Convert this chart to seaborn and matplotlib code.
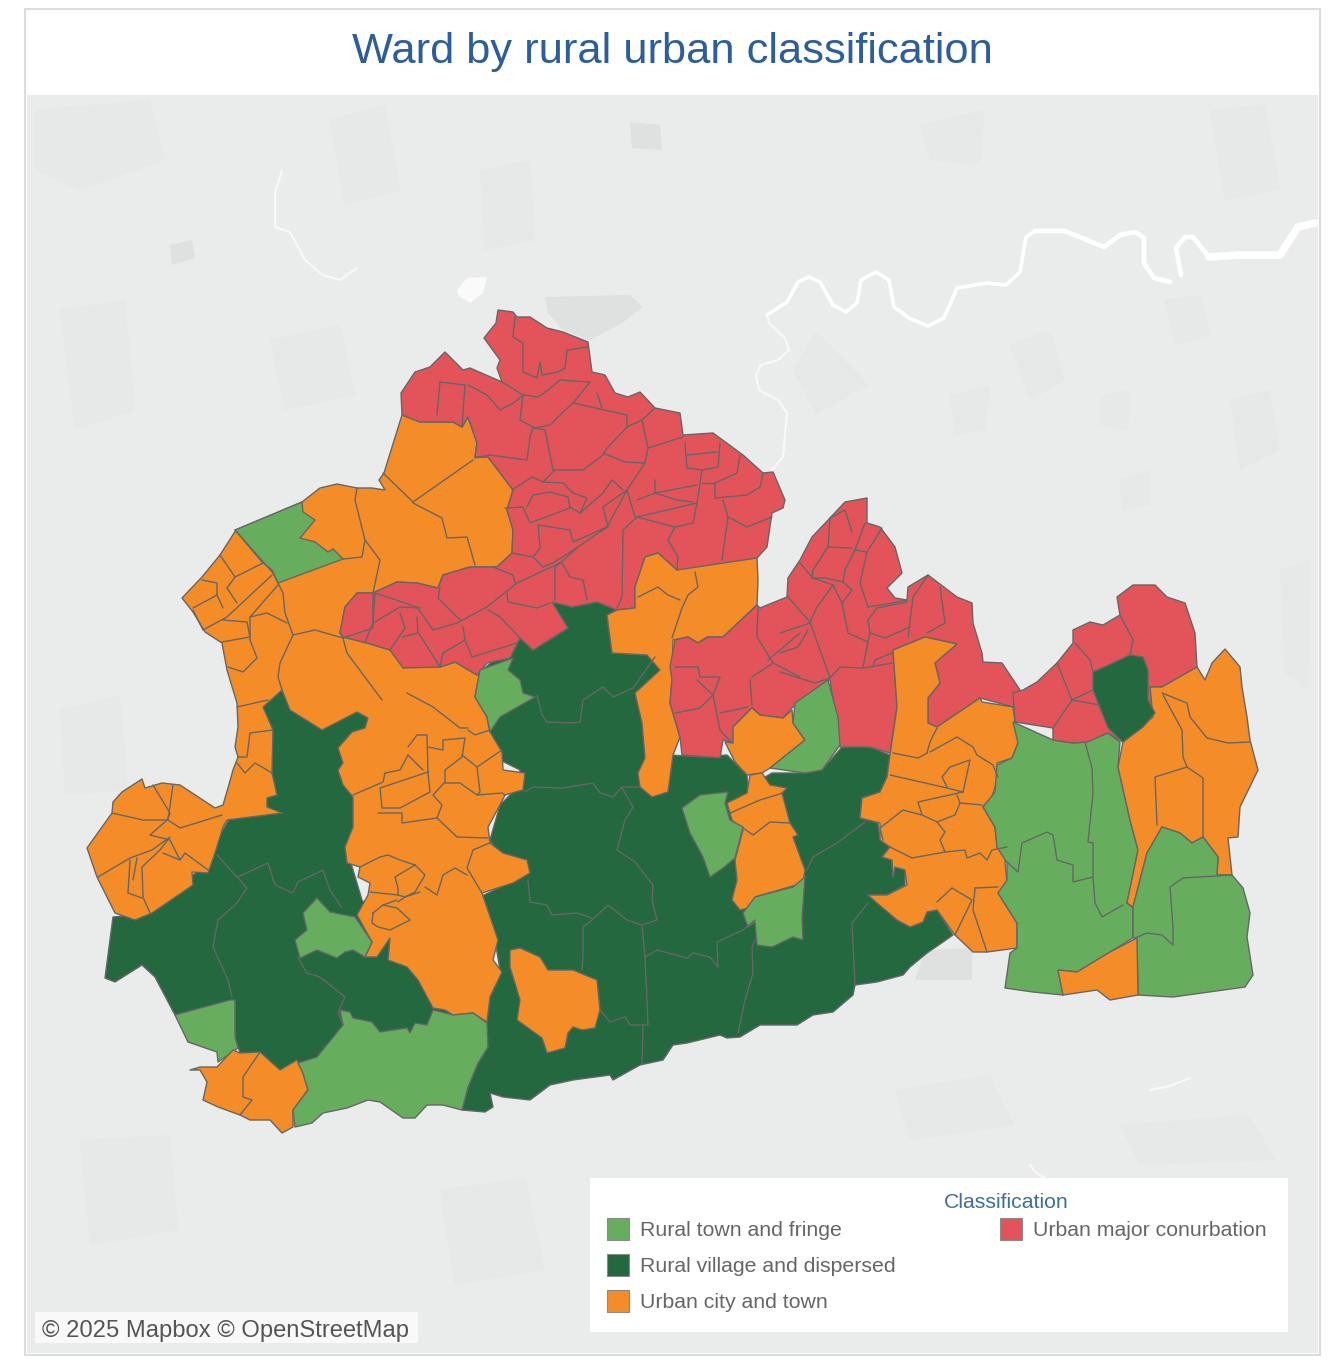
import matplotlib
matplotlib.use('Agg')
import matplotlib.pyplot as plt
from matplotlib.patches import Rectangle
import pandas as pd
import seaborn as sns

# class names and colours
CLASSES = ['Rural town and fringe', 'Rural village and dispersed', 'Urban city and town', 'Urban major conurbation']
COLOURS = ['#66ae5e', '#23683e', '#f48d27', '#e2545a']

# ---- region outlines (x, y in picture pixels)
DARK_BASE = [(105,978),(113,917),(135,915),(200,870),(240,800),(263,707),(282,690),(322,725),(357,708),(372,716),(360,790),(350,860),(362,900),(385,930),(395,950),(425,975),(440,1000),(480,1005),(500,970),(495,940),(480,897),(515,880),(500,855),(490,840),(500,805),(520,785),(520,770),(500,760),(490,735),(478,695),(480,672),(520,638),(533,650),(568,628),(552,610),(553,602),(572,607),(597,602),(617,610),(607,615),(612,653),(647,655),(660,670),(650,700),(660,780),(670,755),(703,757),(727,755),(747,775),(748,787),(772,773),(805,773),(822,770),(842,747),(857,747),(870,747),(890,755),(887,777),(880,792),(862,798),(860,818),(878,823),(880,840),(890,847),(882,857),(892,860),(893,877),(895,867),(905,870),(905,885),(887,895),(868,895),(877,903),(897,920),(910,927),(923,922),(927,912),(937,910),(953,935),(943,942),(927,953),(910,967),(903,975),(877,982),(855,985),(853,995),(833,1012),(813,1015),(797,1025),(760,1025),(740,1037),(727,1038),(720,1035),(687,1043),(673,1045),(663,1060),(640,1065),(613,1080),(610,1075),(573,1080),(550,1085),(530,1100),(503,1097),(490,1093),(493,1107),(485,1112),(462,1110),(468,1087),(478,1063),(488,1047),(480,1040),(400,1080),(298,1063),(280,1070),(240,1053),(235,1037),(235,1000),(175,1015),(155,977),(142,965),(115,982)]
ORANGE_WEST = [(236,530),(302,502),(320,488),(337,484),(357,488),(372,488),(385,490),(379,480),(384,473),(388,460),(402,415),(420,422),(453,422),(462,427),(468,417),(477,443),(475,457),(488,457),(513,490),(507,510),(513,530),(512,553),(497,567),(470,567),(443,575),(438,588),(417,583),(397,582),(373,593),(357,593),(345,607),(340,633),(343,637),(367,643),(390,650),(405,667),(440,667),(455,662),(477,675),(480,670),(475,697),(487,717),(490,732),(502,752),(503,770),(525,773),(523,790),(505,795),(500,805),(488,827),(490,843),(503,853),(527,860),(530,873),(513,883),(482,893),(498,940),(493,960),(502,972),(490,997),(487,1022),(473,1013),(453,1015),(445,1010),(433,1008),(418,980),(407,967),(388,960),(390,938),(377,957),(365,957),(372,942),(357,915),(368,895),(370,883),(358,877),(360,867),(347,863),(345,847),(353,827),(353,797),(343,785),(338,770),(343,763),(338,748),(352,732),(365,728),(368,718),(357,712),(322,730),(290,710),(282,690),(263,707),(273,730),(272,773),(277,795),(267,798),(267,807),(282,813),(227,820),(223,827),(215,853),(208,873),(192,872),(193,885),(152,913),(135,920),(115,913),(97,877),(87,848),(112,813),(113,802),(122,792),(142,779),(145,788),(162,783),(180,785),(215,808),(223,805),(228,788),(233,770),(238,757),(235,747),(238,727),(237,703),(227,670),(222,643),(205,632),(193,612),(182,598),(202,577),(220,555)]
RED_NORTH = [(498,310),(513,312),(517,317),(530,317),(547,328),(563,332),(588,342),(592,372),(605,375),(615,393),(628,397),(640,392),(655,408),(680,413),(683,435),(713,433),(743,455),(763,473),(773,472),(785,500),(783,508),(772,513),(767,547),(757,558),(697,570),(677,570),(658,553),(645,557),(635,587),(635,608),(617,610),(597,602),(572,607),(552,602),(568,628),(533,650),(520,638),(510,658),(487,663),(477,675),(455,662),(440,667),(403,668),(390,650),(367,643),(343,637),(340,633),(345,607),(357,593),(373,593),(397,582),(417,583),(438,588),(443,575),(470,567),(497,567),(512,553),(513,530),(507,510),(513,490),(488,457),(475,457),(477,443),(468,417),(462,427),(453,422),(420,422),(402,415),(401,393),(415,372),(430,367),(445,352),(463,370),(470,368),(502,382),(497,368),(500,360),(484,338),(496,323)]
ORANGE_MID = [(617,610),(635,608),(635,587),(645,557),(658,553),(677,570),(757,558),(758,580),(757,605),(723,637),(707,637),(698,643),(688,637),(673,640),(672,680),(670,703),(680,737),(673,755),(668,792),(652,797),(640,787),(638,773),(645,758),(642,723),(635,693),(660,670),(647,655),(612,653),(607,615)]
RED_MID = [(867,498),(845,502),(830,518),(812,537),(800,560),(788,578),(787,597),(760,608),(757,605),(723,637),(708,637),(698,643),(688,637),(675,640),(670,667),(672,680),(670,703),(680,737),(682,755),(720,758),(723,740),(733,743),(733,727),(752,708),(760,715),(783,718),(790,710),(793,707),(828,680),(830,680),(840,747),(870,747),(890,753),(897,707),(893,650),(925,637),(957,644),(935,663),(940,683),(928,698),(928,723),(937,727),(980,698),(1013,707),(1020,690),(1002,663),(983,662),(982,653),(973,623),(972,603),(957,597),(928,575),(908,587),(907,600),(895,598),(887,588),(902,573),(895,547),(880,527),(867,523)]
ORANGE_NOTCH = [(725,742),(733,743),(733,727),(752,708),(760,715),(783,718),(792,710),(793,723),(805,740),(770,768),(762,773),(747,775),(735,762)]
GREEN_NOTCH = [(828,680),(838,717),(840,745),(822,770),(805,773),(770,768),(805,740),(793,723),(795,703)]
ORANGE_LOWER = [(750,775),(762,773),(770,785),(787,788),(782,793),(790,823),(798,835),(793,837),(805,870),(803,883),(755,897),(753,907),(740,910),(732,900),(737,880),(735,860),(743,830),(732,820),(727,803),(747,793)]
GREEN_INNER = [(682,808),(700,795),(728,792),(725,803),(730,820),(743,827),(735,858),(723,868),(710,877),(703,857),(690,833)]
GREEN_LOWER = [(755,897),(793,887),(805,877),(802,918),(803,940),(793,937),(772,947),(757,945),(755,922),(748,927),(743,913)]
ORANGE_ISLAND = [(510,950),(520,948),(540,957),(548,970),(573,970),(597,980),(600,1010),(595,1028),(582,1030),(573,1027),(568,1033),(565,1048),(547,1053),(542,1038),(517,1020),(520,1000),(510,967)]
GREEN_CENTRE = [(480,670),(513,658),(508,670),(520,680),(523,693),(535,697),(500,717),(490,732),(487,717),(475,697)]
GREEN_NW = [(235,530),(302,502),(303,512),(315,520),(300,538),(315,542),(328,552),(333,549),(343,559),(278,583),(272,570),(262,562)]
GREEN_SMALL = [(317,898),(330,912),(355,917),(372,942),(365,957),(353,950),(345,952),(337,958),(317,950),(300,958),(295,940),(307,930),(303,913)]
GREEN_SW = [(175,1015),(230,1000),(235,1000),(235,1037),(238,1048),(218,1062),(217,1052),(188,1042)]
ORANGE_SW = [(190,1070),(200,1067),(217,1067),(233,1050),(240,1053),(260,1052),(280,1070),(297,1060),(303,1073),(308,1090),(293,1110),(293,1127),(282,1133),(270,1120),(250,1120),(240,1115),(218,1107),(203,1100),(207,1082),(200,1070)]
GREEN_SOUTH = [(298,1063),(317,1057),(343,1025),(340,1010),(350,1012),(353,1018),(372,1022),(380,1032),(407,1028),(410,1033),(415,1023),(427,1025),(433,1010),(453,1015),(473,1013),(487,1023),(488,1047),(478,1063),(468,1087),(462,1110),(443,1105),(427,1105),(415,1118),(403,1118),(380,1102),(368,1100),(347,1108),(323,1113),(312,1123),(295,1127),(293,1110),(308,1090),(303,1073)]
ORANGE_EAST = [(893,650),(925,637),(957,644),(935,663),(940,683),(928,698),(928,723),(937,727),(980,698),(982,702),(1013,707),(1018,743),(1012,758),(997,763),(998,777),(992,797),(983,807),(995,827),(997,847),(1007,847),(1005,863),(1007,883),(998,893),(1017,923),(1017,948),(987,952),(973,952),(955,935),(937,910),(927,912),(923,922),(910,927),(897,920),(877,903),(868,895),(887,895),(907,885),(905,870),(895,867),(893,877),(892,860),(882,857),(890,847),(880,840),(880,823),(860,818),(862,798),(880,792),(887,777),(890,755),(897,707)]
GREEN_EAST = [(1013,722),(1053,740),(1073,743),(1085,742),(1108,733),(1120,742),(1118,767),(1130,820),(1138,850),(1127,903),(1133,908),(1133,938),(1110,952),(1077,972),(1058,970),(1063,995),(1033,992),(1005,988),(1010,953),(1017,948),(1017,923),(998,893),(1007,880),(1007,863),(997,847),(995,827),(983,807),(995,792),(997,765),(1012,758),(1018,743)]
RED_EAST = [(1013,693),(1023,690),(1037,682),(1057,663),(1073,643),(1073,630),(1090,622),(1103,625),(1120,615),(1117,597),(1133,585),(1155,585),(1167,597),(1185,603),(1195,633),(1197,667),(1162,687),(1150,687),(1153,717),(1123,742),(1108,733),(1087,742),(1073,743),(1053,740),(1053,728),(1015,722)]
DARK_EAST = [(1093,672),(1113,663),(1130,655),(1143,657),(1148,670),(1148,700),(1155,713),(1143,727),(1123,742),(1108,728),(1093,690)]
ORANGE_FAR_EAST = [(1150,687),(1162,687),(1197,667),(1205,680),(1212,663),(1225,649),(1240,667),(1242,687),(1247,717),(1250,740),(1258,770),(1240,807),(1238,837),(1228,838),(1232,875),(1217,875),(1218,857),(1203,837),(1192,843),(1180,833),(1162,827),(1147,853),(1133,907),(1127,903),(1138,850),(1130,820),(1118,767),(1123,742),(1153,717)]
GREEN_SE = [(1162,827),(1180,833),(1192,843),(1203,837),(1218,857),(1217,875),(1232,875),(1243,888),(1250,913),(1247,937),(1253,975),(1245,987),(1173,997),(1138,995),(1137,940),(1133,937),(1133,907),(1147,853)]
ORANGE_BOTTOM = [(1058,970),(1077,972),(1110,952),(1137,938),(1138,995),(1110,1000),(1097,990),(1063,995)]

# painted in this order, later ones sit on top
REGIONS = [
    (1, DARK_BASE), (2, ORANGE_WEST), (3, RED_NORTH), (2, ORANGE_MID), (3, RED_MID),
    (2, ORANGE_NOTCH), (0, GREEN_NOTCH), (2, ORANGE_LOWER), (0, GREEN_INNER), (0, GREEN_LOWER),
    (2, ORANGE_ISLAND), (0, GREEN_CENTRE), (0, GREEN_NW), (0, GREEN_SMALL), (0, GREEN_SW),
    (2, ORANGE_SW), (0, GREEN_SOUTH), (2, ORANGE_EAST), (0, GREEN_EAST), (3, RED_EAST),
    (2, ORANGE_FAR_EAST), (0, GREEN_SE), (2, ORANGE_BOTTOM), (1, DARK_EAST),
]

# ---- ward boundaries inside the regions
WARD_LINES = [
    # north red block
    [(515,317),(513,337),(523,343),(523,372),(537,378),(540,362),(542,375),(558,372),(565,368),(567,350),(588,347)],
    [(502,382),(523,395),(520,420),(535,428),(550,425),(562,413),(573,403),(590,382),(560,380),(548,390),(538,397),(523,395)],
    [(573,403),(627,415),(627,427),(607,448),(603,455),(583,470),(553,470),(545,430),(533,428),(530,437),(527,460),(490,455),(475,458)],
    [(597,393),(602,408)],
    [(627,427),(642,420),(655,408)],
    [(642,420),(648,448),(645,463),(625,462),(603,453)],
    [(648,448),(683,437)],
    [(685,443),(687,468),(702,470),(718,467),(720,443)],
    [(687,455),(717,452)],
    [(740,455),(737,473),(715,483),(715,498),(747,495),(760,487),(763,473)],
    [(702,470),(700,483),(697,503),(637,517),(623,530),(622,597),(617,608)],
    [(645,463),(627,490),(607,527),(573,542),(570,530),(538,525),(540,548),(533,557),(543,567),(553,563),(578,547),(607,527)],
    [(627,490),(635,517)],
    [(512,490),(532,477),(543,482),(555,470)],
    [(505,508),(523,507),(530,523),(570,508),(568,497),(550,492),(533,495),(527,507)],
    [(543,482),(563,483),(573,493),(587,498),(580,513),(570,507)],
    [(580,513),(603,493),(612,480),(623,490)],
    [(603,507),(608,527)],
    [(603,507),(627,490)],
    [(637,500),(655,493),(677,500),(693,502)],
    [(655,480),(655,493),(697,485)],
    [(697,503),(693,523),(675,527),(668,540),(678,557),(677,570)],
    [(637,517),(675,527)],
    [(728,517),(722,560)],
    [(728,517),(747,527),(772,517)],
    [(723,500),(728,517)],
    [(702,483),(715,483)],
    [(440,382),(437,415)],
    [(440,382),(465,385),(462,427)],
    [(468,385),(487,395),(500,410),(515,402),(523,395)],
    # west red strip
    [(578,547),(560,563),(517,583),(487,607),(457,623),(433,630),(417,607),(375,593)],
    [(560,563),(555,567),(555,600)],
    [(562,563),(570,577),(583,580),(587,600)],
    [(512,553),(533,557)],
    [(493,567),(513,575),(515,583)],
    [(440,588),(438,598),(460,620)],
    [(507,593),(508,602),(537,608),(550,603)],
    [(488,610),(500,617),(520,638)],
    [(463,627),(465,640),(443,653),(440,667)],
    [(465,640),(472,657),(517,643)],
    [(375,593),(373,623),(365,642)],
    [(373,623),(400,607),(420,608)],
    [(400,613),(405,628),(390,650)],
    [(417,617),(418,633),(402,637)],
    [(418,632),(440,667)],
    # orange wedge above the middle
    [(695,572),(698,587),(688,595),(682,608),(672,638)],
    [(638,597),(658,587),(668,595),(680,600)],
    # west orange
    [(235,530),(273,573),(283,593),(285,613),(293,635),(280,663),(278,677),(282,690)],
    [(293,635),(315,630),(343,638),(347,653),(382,700)],
    [(343,638),(373,628),(373,593),(380,560),(365,540),(355,500),(357,488)],
    [(365,540),(362,557),(343,559)],
    [(413,503),(442,518),(447,538),(467,537),(475,565)],
    [(413,502),(473,460)],
    [(413,502),(383,473)],
    [(272,575),(227,617),(203,630),(193,610)],
    [(278,585),(250,617),(267,613),(287,623)],
    [(220,555),(235,577),(227,588),(237,603)],
    [(235,577),(263,563)],
    [(202,580),(217,583),(217,595),(223,608)],
    [(217,595),(193,608)],
    [(223,620),(247,622),(250,637),(222,642)],
    [(250,617),(250,640),(257,658),(243,672),(228,667)],
    [(237,707),(268,700)],
    [(273,730),(250,733),(247,757),(238,757)],
    [(237,763),(245,773),(255,763),(272,773)],
    # far west cluster
    [(112,813),(143,820),(167,820),(170,813),(153,785)],
    [(173,785),(168,820),(180,828),(222,815)],
    [(167,820),(150,835),(170,840),(180,860),(163,853)],
    [(180,860),(185,853),(208,870)],
    [(98,877),(130,858),(152,850),(170,837),(160,850),(142,867),(143,897),(150,913)],
    [(130,860),(128,893),(142,898)],
    [(137,858),(133,880)],
    # central orange
    [(408,747),(417,735),(427,735),(428,773),(430,792),(400,808),(382,808),(380,788),(428,772)],
    [(408,755),(423,770)],
    [(408,755),(400,770),(385,773),(383,782),(353,795)],
    [(428,747),(443,750),(443,740),(465,738),(462,757),(445,770),(445,782),(433,795),(442,805),(437,818),(402,823),(402,813),(378,813)],
    [(407,693),(433,707),(460,728),(468,728)],
    [(468,730),(475,735),(490,730)],
    [(462,755),(477,767),(502,750)],
    [(477,767),(480,792),(477,795),(460,783),(445,783)],
    [(477,795),(502,793),(505,795)],
    [(437,818),(457,837),(488,838)],
    [(492,842),(473,850),(467,868),(482,893)],
    [(360,867),(380,857),(388,855),(400,860),(415,865),(425,875),(415,892),(405,897),(398,895),(398,888),(395,877),(415,865)],
    [(425,887),(437,895),(443,875),(455,868),(467,875)],
    [(373,913),(383,905),(397,908),(410,920),(390,930),(378,927),(372,923),(373,913)],
    [(370,892),(398,895)],
    [(398,902),(405,897),(420,892)],
    [(383,905),(397,900)],
    # dark green
    [(217,855),(247,888),(237,903),(227,912),(218,920),(213,947),(228,980),(232,997)],
    [(238,877),(268,863),(275,885),(293,893),(298,882),(323,870),(330,890),(342,908)],
    [(298,958),(307,973),(320,977),(345,997),(338,1012),(343,1025)],
    [(537,695),(542,715),(547,722),(572,723),(580,722),(583,700),(603,687),(613,697),(633,688),(655,657)],
    [(525,792),(533,787),(563,788),(593,783),(600,793),(613,797),(622,787),(640,787)],
    [(622,788),(633,807),(625,820),(617,850),(635,862),(653,885),(652,900),(657,920),(642,925),(627,920),(608,905),(592,920),(583,927),(583,957),(582,970)],
    [(528,880),(530,902),(547,905),(552,915),(577,913),(592,918)],
    [(642,925),(645,957),(647,1000),(648,1025),(630,1025),(625,1017),(610,1022),(600,1010)],
    [(643,1025),(642,1063)],
    [(645,957),(657,950),(687,958),(693,953),(710,957),(718,967),(717,942),(743,930),(755,920)],
    [(755,940),(752,947),(753,973),(745,1000),(738,1033)],
    [(807,870),(813,857),(837,843),(865,822)],
    [(868,903),(852,923),(855,985)],
    # middle red
    [(830,518),(828,547),(813,570),(812,578),(825,578),(843,582),(845,570),(855,550),(865,523)],
    [(830,518),(845,510),(852,532)],
    [(828,547),(852,548)],
    [(800,563),(813,578),(833,585),(817,607),(810,622),(788,597)],
    [(833,585),(842,603),(852,590),(843,582)],
    [(855,550),(867,552),(882,528)],
    [(867,552),(860,583),(868,607),(893,603),(907,600)],
    [(842,603),(848,633),(868,642),(863,667)],
    [(868,642),(870,633),(885,638),(910,627)],
    [(868,620),(870,633)],
    [(868,620),(877,608),(907,602)],
    [(928,575),(913,597),(908,637)],
    [(940,587),(945,623),(927,633)],
    [(810,622),(830,678),(815,683),(780,672)],
    [(810,623),(780,633)],
    [(808,630),(798,647),(780,653)],
    [(830,678),(840,667),(863,668),(893,663)],
    [(873,667),(875,660),(892,653)],
    [(758,608),(757,637),(773,663),(752,677)],
    [(800,633),(768,660)],
    [(800,677),(773,663)],
    [(750,680),(752,705)],
    [(675,713),(700,708),(713,695),(697,680)],
    [(713,695),(720,730),(732,743)],
    [(720,713),(748,707)],
    [(675,667),(698,667),(700,677),(720,677),(713,695)],
    [(730,813),(760,800),(783,793)],
    [(743,828),(753,835),(770,822),(790,823)],
    # east orange
    [(890,775),(947,788),(963,792),(970,760),(950,767),(942,777),(947,787)],
    [(927,753),(918,758),(893,753)],
    [(927,753),(930,742),(937,728)],
    [(930,752),(957,737),(973,747),(977,755),(993,765),(998,777)],
    [(963,792),(918,802),(922,815),(903,810),(880,828),(883,840)],
    [(957,795),(960,803),(982,805)],
    [(960,803),(955,815),(937,822),(922,815)],
    [(937,822),(945,832),(940,840),(945,852),(912,858),(890,847)],
    [(945,852),(965,850),(967,858),(980,853),(987,860),(992,850),(1007,847)],
    [(937,902),(952,888),(972,900),(955,935)],
    [(975,888),(998,887)],
    [(975,888),(973,910),(987,952)],
    # far east
    [(1085,742),(1092,768),(1093,793),(1088,842),(1093,843),(1093,877),(1095,903),(1102,917),(1123,905)],
    [(1007,862),(1018,872),(1022,843),(1047,832),(1053,835),(1057,860),(1073,865),(1073,882),(1093,877)],
    [(1135,938),(1147,933),(1162,935),(1173,945),(1173,927),(1170,887),(1183,878),(1232,875)],
    [(1162,693),(1187,703),(1190,717),(1207,738),(1228,743),(1250,742)],
    [(1163,695),(1182,730),(1183,757),(1187,767),(1155,777),(1157,825)],
    [(1187,767),(1203,778),(1203,837)],
    [(1075,643),(1090,660),(1093,672)],
    [(1120,615),(1133,640),(1130,655)],
    [(1053,728),(1072,700),(1093,690)],
    [(1057,663),(1072,700),(1100,705)],
    # south west
    [(260,1052),(243,1077),(243,1097),(252,1100),(240,1115)],
]

# ---- base map
THIN_STREAMS = [
    [(772,470),(783,457),(787,413),(778,400),(759,390),(756,375),(761,365),(778,360),(789,350),(785,338),(769,323),(767,315)],
    [(282,170),(275,193),(275,227),(290,232),(305,260),(323,275),(340,280),(357,268)],
    [(1150,1090),(1170,1086),(1190,1078)],
    [(1030,1165),(1035,1172),(1045,1178)],
]
RIVER_UPPER = [[(767,315),(787,302),(798,282),(809,277),(820,282),(833,305),(846,312),(857,303),(861,280),(876,272),(889,280),(894,307),(909,318),(928,326),(944,318),(957,288),(987,283),(1006,285),(1020,272),(1026,237),(1035,231)]]
RIVER_MIDDLE = [[(1035,231),(1065,231),(1104,247),(1120,235),(1135,232),(1144,238),(1144,263),(1154,278),(1170,282)],
                [(1181,275),(1176,248),(1185,237),(1193,237),(1209,257)]]
RIVER_LOWER = [[(1209,257),(1239,255),(1280,255),(1298,227),(1315,223)]]
GREY_PATCHES = [
    [(545,297),(630,295),(643,307),(622,323),(590,340),(563,330),(548,313)],
    [(170,245),(192,240),(195,258),(172,265)],
    [(925,950),(972,948),(972,980),(915,980)],
    [(630,122),(660,125),(662,150),(632,148)],
]
BLOTCHES = [
    [(794,370),(815,330),(868,385),(815,415)],
    [(35,110),(150,100),(165,160),(80,190),(35,170)],
    [(330,120),(385,105),(400,190),(345,205)],
    [(480,170),(530,160),(535,240),(485,250)],
    [(920,125),(985,110),(980,165),(930,160)],
    [(1210,110),(1265,105),(1280,190),(1225,200)],
    [(1010,345),(1050,330),(1065,380),(1030,400)],
    [(1165,300),(1200,295),(1210,335),(1175,345)],
    [(1230,400),(1270,390),(1280,450),(1240,470)],
    [(1100,395),(1130,390),(1128,430),(1100,425)],
    [(950,395),(990,385),(985,430),(955,435)],
    [(1120,480),(1150,470),(1150,505),(1122,510)],
    [(60,310),(125,300),(135,410),(75,430)],
    [(270,340),(340,325),(355,395),(285,410)],
    [(60,710),(120,695),(128,790),(65,795)],
    [(895,1090),(990,1075),(1015,1125),(910,1140)],
    [(80,1140),(170,1135),(178,1230),(90,1245)],
    [(440,1190),(525,1178),(545,1270),(455,1285)],
    [(1120,1125),(1250,1115),(1275,1160),(1140,1165)],
    [(1280,570),(1310,560),(1308,690),(1285,675)],
]

TITLE = 'Ward by rural urban classification'
LEGEND_TITLE = 'Classification'
ATTRIBUTION = '\u00a9 2025 Mapbox \u00a9 OpenStreetMap'


def lines_frame(lines):
    rows = []
    for i, line in enumerate(lines):
        for order, (x, y) in enumerate(line):
            rows.append({'line': i, 'order': order, 'x': x, 'y': y})
    return pd.DataFrame(rows)


def draw_lines(ax, lines, color, width):
    sns.lineplot(data=lines_frame(lines), x='x', y='y', units='line', estimator=None, sort=False,
                 color=color, linewidth=width, ax=ax, legend=False, solid_capstyle='round')


def main():
    sns.set_theme(style='white')
    plt.rcParams['font.family'] = ['Liberation Sans', 'DejaVu Sans']
    palette = sns.color_palette(COLOURS)

    fig = plt.figure(figsize=(13.36, 13.61), dpi=100)
    ax = fig.add_axes([0, 0, 1, 1])

    # frame and title strip
    ax.add_patch(Rectangle((25, 9), 1295, 1346, fc='white', ec='#dcdcdc', lw=1.5))
    ax.add_patch(Rectangle((27, 95), 1291, 1258, fc='#eaebeb', ec='none'))

    for blotch in BLOTCHES:
        ax.fill(*zip(*blotch), color='#e7e8e8', lw=0)
    for patch in GREY_PATCHES:
        ax.fill(*zip(*patch), color='#dfe0e0', lw=0)
    ax.fill(*zip(*[(457,290),(467,278),(487,277),(483,293),(470,303),(458,295)]), color='#fafafa', lw=0)
    draw_lines(ax, THIN_STREAMS, '#f8f8f8', 1.6)
    draw_lines(ax, RIVER_UPPER, 'white', 2.6)
    draw_lines(ax, RIVER_MIDDLE, 'white', 3.4)
    draw_lines(ax, RIVER_LOWER, 'white', 5.5)

    for cls, outline in REGIONS:
        ax.fill(*zip(*outline), facecolor=palette[cls], edgecolor='#666666', linewidth=1.0, joinstyle='round')
    draw_lines(ax, WARD_LINES, '#666666', 1.0)

    ax.text(672, 52, TITLE, ha='center', va='center', fontsize=31.2, color='#2c5d9f')

    # legend box
    ax.add_patch(Rectangle((590, 1178), 698, 154, fc='white', ec='none'))
    ax.text(1006, 1202, LEGEND_TITLE, ha='center', va='center', fontsize=15.3, color='#3f6ca8')
    legend_pos = [(607, 1229), (607, 1265), (607, 1301), (1000, 1229)]
    for i, (label, (lx, ly)) in enumerate(zip(CLASSES, legend_pos)):
        ax.add_patch(Rectangle((lx, ly - 11), 22, 22, fc=palette[i], ec='#8a8a8a', lw=0.8))
        ax.text(lx + 33, ly + 1, label, ha='left', va='center', fontsize=15.3, color='#666666')

    # attribution
    ax.add_patch(Rectangle((35, 1312), 383, 31, fc='white', ec='none', alpha=0.75))
    ax.text(42, 1331, ATTRIBUTION, ha='left', va='center', fontsize=17.1, color='#555555')

    ax.set_xlim(0, 1336)
    ax.set_ylim(1361, 0)
    ax.set_xlabel('')
    ax.set_ylabel('')
    ax.axis('off')
    fig.savefig('out.png', dpi=100, facecolor='white')


if __name__ == '__main__':
    main()
